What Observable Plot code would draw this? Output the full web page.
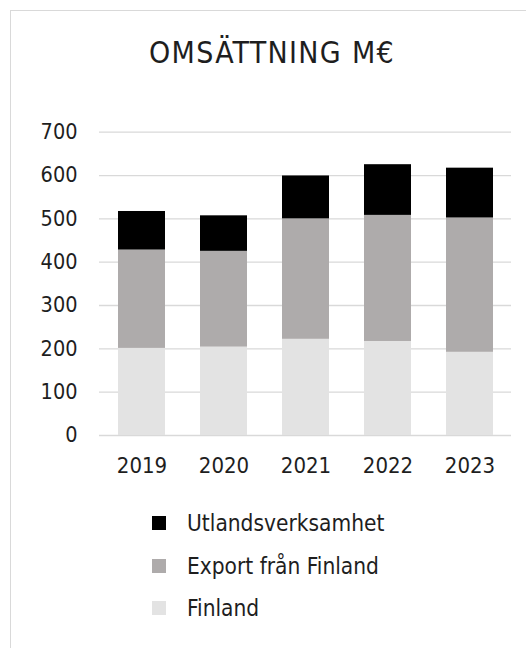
<!DOCTYPE html>
<html>
<head>
<meta charset="utf-8">
<script src="https://cdn.jsdelivr.net/npm/d3@7"></script>
<script src="https://cdn.jsdelivr.net/npm/@observablehq/plot@0.6"></script>
<style>
  html, body { margin: 0; padding: 0; background: #fff; width: 526px; height: 648px; overflow: hidden; }
  body { position: relative; font-family: "DejaVu Sans Condensed", "DejaVu Sans", sans-serif; font-stretch: condensed; color: #1e1e1e; }
  #frame { position: absolute; left: 10px; top: 10px; width: 560px; height: 700px; border: 1.5px solid #d9d9d9; box-sizing: border-box; }
  #title { position: absolute; left: 0; width: 544px; top: 35px; text-align: center; font-size: 30px; letter-spacing: 1.3px; }
  #chart { position: absolute; left: 0; top: 100px; }
  .leg { position: absolute; left: 152px; height: 26px; display: flex; align-items: center; font-size: 22.5px; }
  .sw { width: 14px; height: 14px; margin-right: 21px; }
</style>
</head>
<body>
<div id="frame"></div>
<div id="title">OMSÄTTNING M€</div>
<div id="chart"></div>
<div id="legend"></div>
<script>
const years = ["2019", "2020", "2021", "2022", "2023"];
const finland = [201, 204, 222, 217, 192];
const exportFin = [227, 221, 278, 291, 310];
const utland = [89, 82, 99, 117, 115];
const seriesNames = ["Finland", "Export från Finland", "Utlandsverksamhet"];
const seriesColors = ["#e3e3e3", "#aeabab", "#000000"];
const yTicks = [0, 100, 200, 300, 400, 500, 600, 700];
const legendOrder = ["Utlandsverksamhet", "Export från Finland", "Finland"];

const seriesValues = [finland, exportFin, utland];
const data = [];
seriesNames.forEach((s, si) => {
  years.forEach((y, i) => data.push({year: y, series: s, value: seriesValues[si][i]}));
});

const plot = Plot.plot({
  width: 526,
  height: 385,
  marginLeft: 99,
  marginRight: 15,
  marginTop: 31.7,
  marginBottom: 50,
  style: {fontFamily: "'DejaVu Sans Condensed', 'DejaVu Sans', sans-serif", fontSize: "22px", color: "#1e1e1e", background: "transparent"},
  x: {domain: years, paddingInner: 0.432, paddingOuter: 0.22, label: null},
  y: {domain: [0, 700], label: null},
  color: {domain: seriesNames, range: seriesColors},
  marks: [
    Plot.ruleY(yTicks, {stroke: "#d9d9d9", strokeWidth: 1.3}),
    Plot.barY(data, {x: "year", y: "value", fill: "series", order: seriesNames}),
    Plot.axisY(yTicks, {tickSize: 0, tickPadding: 22, fontSize: 21.5, fill: "#1e1e1e"}),
    Plot.axisX({tickSize: 0, tickPadding: 22, fontSize: 22, fill: "#1e1e1e"})
  ]
});
document.getElementById("chart").appendChild(plot);

const color = plot.scale("color");
const legend = document.getElementById("legend");
const rowTops = [510, 553, 595];
legendOrder.forEach((name, i) => {
  const row = document.createElement("div");
  row.className = "leg";
  row.style.top = rowTops[i] + "px";
  const sw = document.createElement("div");
  sw.className = "sw";
  sw.style.background = color.apply(name);
  const t = document.createElement("span");
  t.textContent = name;
  row.appendChild(sw);
  row.appendChild(t);
  legend.appendChild(row);
});
</script>
</body>
</html>
